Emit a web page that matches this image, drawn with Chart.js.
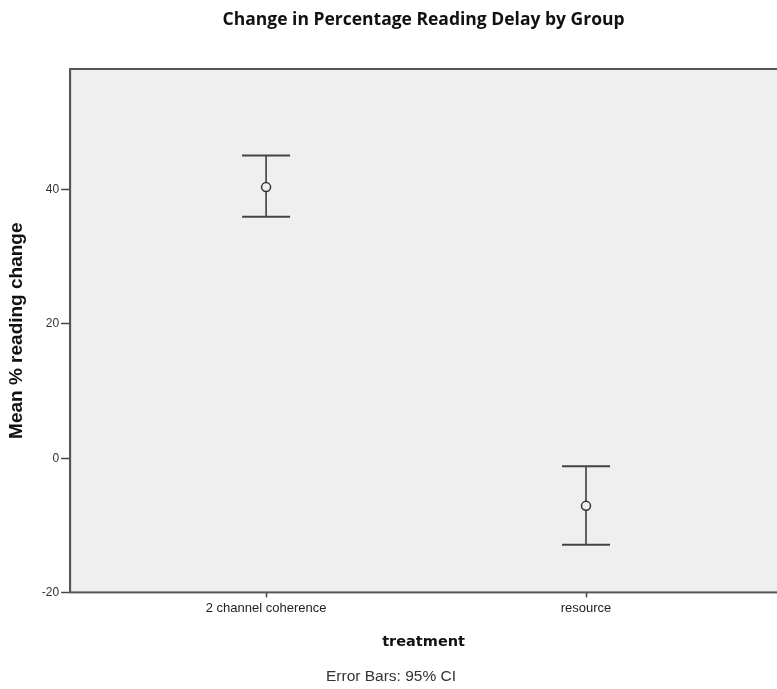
<!DOCTYPE html>
<html lang="en"><head>
<title>Change in Percentage Reading Delay by Group</title>
<meta name="viewport" content="width=device-width, initial-scale=1.0">
<meta charset="utf-8">
<style type="text/css">
body { margin:0; background:#ffffff; }
#chart1 { position:relative; width:777px; height:689px; }
</style>
<script src="https://cdn.jsdelivr.net/npm/chart.js@4"></script>
<script>
// values
groups=['2 channel coherence','resource'];
groupPos=[0,1];
means=[40.4,-7.1];
ciLow=[36.0,-12.9];
ciHigh=[45.1,-1.2];
yTicks=[-20,0,20,40];

// grey plot area and frame, like SPSS
plotFrame={id:'plotFrame',
  beforeDatasetsDraw(chart) { const a=chart.chartArea,ctx=chart.ctx;
    ctx.save(); ctx.fillStyle='#efefef'; ctx.fillRect(a.left,a.top,a.right-a.left,a.bottom-a.top);
    ctx.restore(); },
  afterDraw(chart) { const a=chart.chartArea,ctx=chart.ctx;
    ctx.save(); ctx.strokeStyle='#555555'; ctx.lineWidth=2;
    ctx.strokeRect(a.left,a.top,a.right-a.left+2,a.bottom-a.top);
    ctx.restore(); }};

function initChart() {
  stems=[]; caps=[]; centers=[];
  for (i=0;i<groups.length;i++) {
    stems.push({x:groupPos[i],y:ciLow[i]},{x:groupPos[i],y:ciHigh[i]},{x:groupPos[i],y:null});
    caps.push({x:groupPos[i],y:ciLow[i]},{x:groupPos[i],y:ciHigh[i]});
    centers.push({x:groupPos[i],y:means[i]}); }

  data={datasets:[{
    type:'line',label:'CI',data:stems,order:3,
    borderColor:'#333333',borderWidth:1.5,pointRadius:0,spanGaps:false},{
    type:'scatter',label:'caps',data:caps,order:2,
    pointStyle:'line',pointRadius:24,borderColor:'#444444',borderWidth:2},{
    type:'scatter',label:'Mean',data:centers,order:1,
    pointStyle:'circle',pointRadius:4.5,borderColor:'#333333',borderWidth:1.5,
    backgroundColor:'#efefef'}]};

  config={type:'scatter',data,plugins:[plotFrame],options:{
    responsive:true,maintainAspectRatio:false,animation:false,
    layout:{autoPadding:false,padding:{left:5,right:0,top:0,bottom:0}},
    events:[],
    scales:{
      x:{type:'linear',min:-0.6125,max:1.597,
        afterBuildTicks:function(axis){ axis.ticks=groupPos.map(v=>({value:v})); },
        ticks:{callback:v=>groups[groupPos.indexOf(v)],color:'#222222',padding:3,
          font:{family:'"Liberation Sans",Arial,sans-serif',size:13}},
        grid:{drawOnChartArea:false,drawTicks:true,tickLength:5,color:'#444444',tickWidth:1.5},
        border:{display:true,color:'#555555',width:2},
        title:{display:true,text:'treatment',color:'#111111',padding:{top:15,bottom:2},
          font:{family:'"DejaVu Sans",sans-serif',size:14.5,weight:'bold'}}},
      y:{type:'linear',min:-20,max:58,
        afterBuildTicks:function(axis){ axis.ticks=yTicks.map(v=>({value:v})); },
        ticks:{color:'#333333',padding:2,
          font:{family:'"Liberation Sans",Arial,sans-serif',size:12}},
        grid:{drawOnChartArea:false,drawTicks:true,tickLength:9,color:'#444444',tickWidth:1.5},
        border:{display:true,color:'#555555',width:2},
        title:{display:true,text:'Mean % reading change',color:'#111111',padding:{top:0,bottom:12},
          font:{family:'"Liberation Sans",Arial,sans-serif',size:19,weight:'bold'}}}},
    plugins:{
      legend:{display:false},tooltip:{enabled:false},
      title:{display:true,fullSize:false,text:'Change in Percentage Reading Delay by Group',color:'#111111',
        padding:{top:10,bottom:38},font:{family:'"Open Sans",sans-serif',size:17.5,weight:'bold'}},
      subtitle:{display:true,position:'bottom',text:'Error Bars: 95% CI',color:'#333333',
        padding:{top:14,bottom:3},font:{family:'"Liberation Sans",Arial,sans-serif',size:15.5}}}}};

  myChart=new Chart(document.getElementById('myChart'),config); }
</script></head>
<body onload="initChart();">
<div id="chart1">
  <canvas id="myChart"></canvas>
</div>
</body></html>
